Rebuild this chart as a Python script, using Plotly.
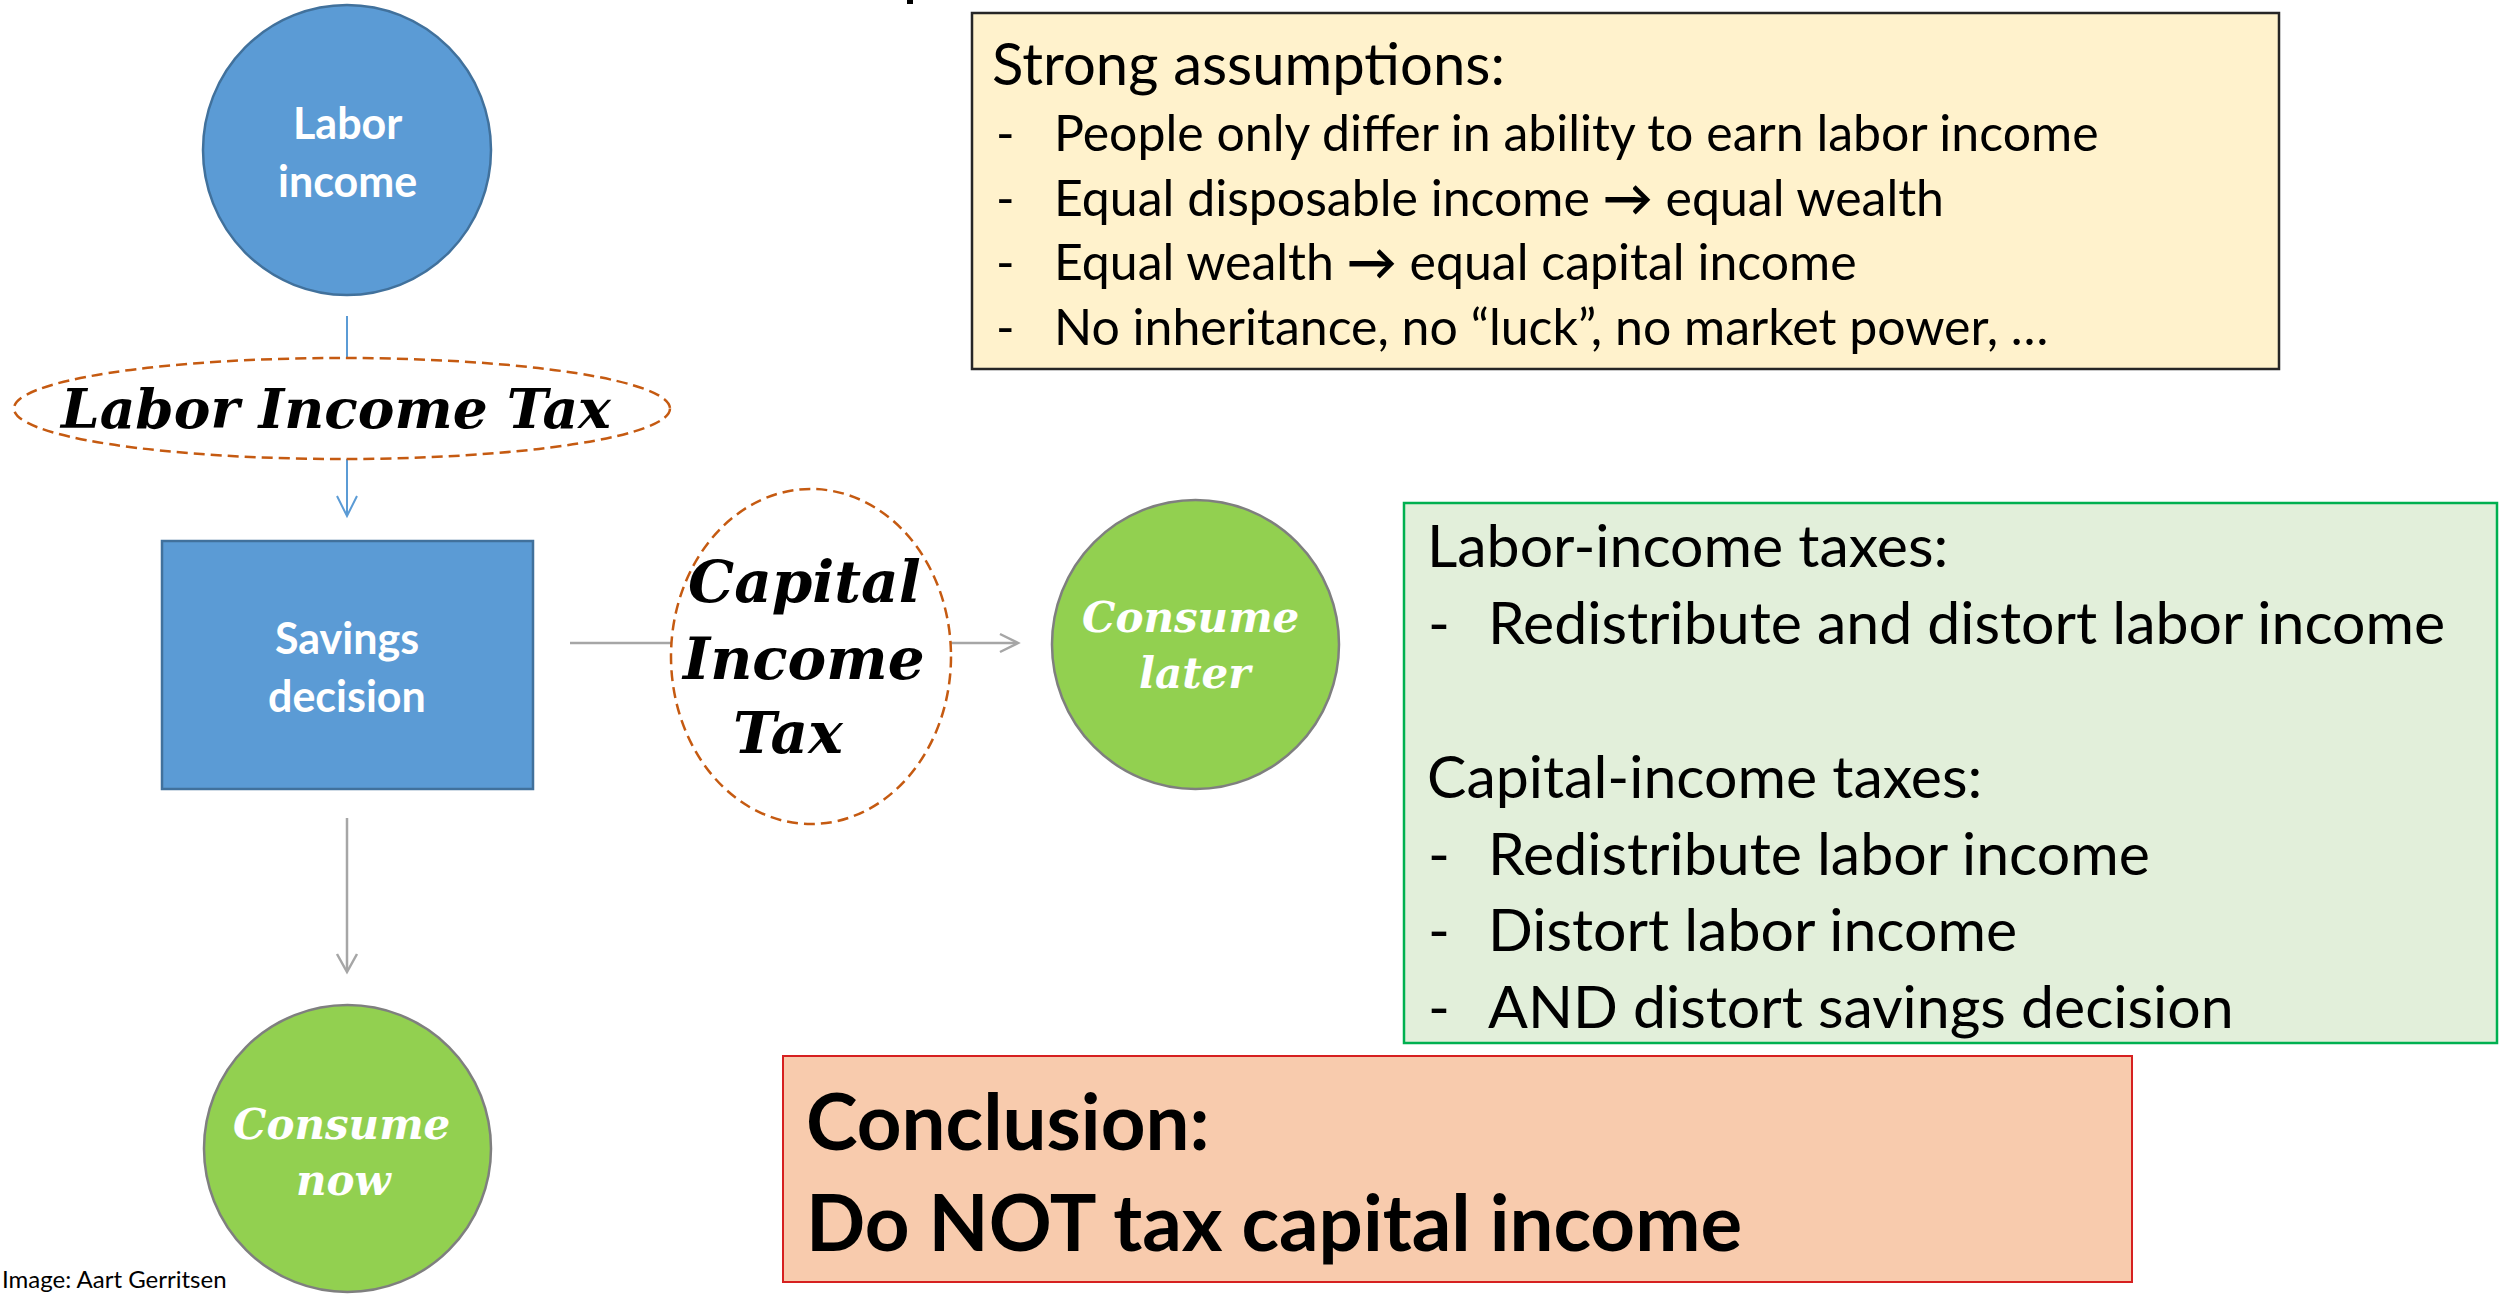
import plotly.graph_objects as go

W, H = 2503, 1294

# ---- text content ----
assumption_title = "Strong assumptions:"
assumptions = [
    "People only differ in ability to earn labor income",
    "Equal disposable income <b>→</b> equal wealth",
    "Equal wealth <b>→</b> equal capital income",
    "No inheritance, no “luck”, no market power, …",
]
labor_title = "Labor-income taxes:"
labor_items = ["Redistribute and distort labor income"]
capital_title = "Capital-income taxes:"
capital_items = ["Redistribute labor income", "Distort labor income", "AND distort savings decision"]
conclusion_lines = ["Conclusion:", "Do NOT tax capital income"]
node_labels = {
    "labor": ["Labor", "income"],
    "savings": ["Savings", "decision"],
    "later": ["Consume", "later"],
    "now": ["Consume", "now"],
}
tax_labels = {"labor": "Labor Income Tax", "capital": ["Capital", "Income", "Tax"]}
credit = "Image: Aart Gerritsen"

# ---- colours ----
BLUE = "#5B9BD5"
BLUE_EDGE = "#41719C"
GREEN = "#92D050"
GREY_EDGE = "#7F7F7F"
DASH = "#C55A11"
ARROW_GREY = "#A6A6A6"

SANS = "Lato"
SERIF = "DejaVu Serif"

fig = go.Figure()
shapes = []
ann = []


def text(x, y, s, size, color="black", family=SANS, xanchor="left"):
    ann.append(dict(x=x, y=y, xref="x", yref="y", text=s, showarrow=False,
                    xanchor=xanchor, yanchor="middle", align="left",
                    font=dict(family=family, size=size, color=color)))


def vhead(x, y, direction, color, half=9, length=18, width=2.5):
    if direction == "down":
        p = f"M {x-half},{y-length} L {x},{y} L {x+half},{y-length}"
    else:
        p = f"M {x-length},{y-half} L {x},{y} L {x-length},{y+half}"
    shapes.append(dict(type="path", path=p, line=dict(color=color, width=width)))


def line(x0, y0, x1, y1, color, width=2.5):
    shapes.append(dict(type="line", x0=x0, y0=y0, x1=x1, y1=y1,
                       line=dict(color=color, width=width)))


# ---- connectors ----
line(347, 316, 347, 360, BLUE, 2)
line(347, 458, 347, 515, BLUE, 2)
vhead(347, 516, "down", BLUE, half=10, length=20, width=2)
line(570, 643, 672, 643, ARROW_GREY)
line(950, 643, 1017, 643, ARROW_GREY)
vhead(1018, 643, "right", ARROW_GREY)
line(347, 818, 347, 971, ARROW_GREY)
vhead(347, 972, "down", ARROW_GREY, half=10)

# ---- boxes ----
shapes.append(dict(type="rect", x0=972, x1=2279, y0=13, y1=369,
                   fillcolor="#FFF2CC", line=dict(color="#262626", width=2.5)))
shapes.append(dict(type="rect", x0=1404, x1=2497, y0=503, y1=1043,
                   fillcolor="#E2EFDA", line=dict(color="#00B050", width=2.5)))
shapes.append(dict(type="rect", x0=783, x1=2132, y0=1056, y1=1282,
                   fillcolor="#F8CBAD", line=dict(color="#D62020", width=2)))

# ---- nodes ----
shapes.append(dict(type="circle", x0=203, x1=491, y0=5, y1=295,
                   fillcolor=BLUE, line=dict(color=BLUE_EDGE, width=2.5)))
shapes.append(dict(type="rect", x0=162, x1=533, y0=541, y1=789,
                   fillcolor=BLUE, line=dict(color=BLUE_EDGE, width=2.5)))
shapes.append(dict(type="circle", x0=1052, x1=1339, y0=500, y1=789,
                   fillcolor=GREEN, line=dict(color=GREY_EDGE, width=2.5)))
shapes.append(dict(type="circle", x0=204, x1=491, y0=1005, y1=1292,
                   fillcolor=GREEN, line=dict(color=GREY_EDGE, width=2.5)))
# dashed tax ellipses
shapes.append(dict(type="circle", x0=14, x1=670, y0=358, y1=459,
                   fillcolor="white", line=dict(color=DASH, width=2.5, dash="11px,6px")))
shapes.append(dict(type="circle", x0=671, x1=951, y0=489, y1=824,
                   fillcolor="white", line=dict(color=DASH, width=2.5, dash="11px,6px")))
# cut-off title remnant at top
shapes.append(dict(type="rect", x0=907, x1=913, y0=0, y1=4, fillcolor="black", line=dict(width=0)))

# ---- texts ----
text(990, 62, assumption_title, 58)
for i, s in enumerate(assumptions):
    yc = 132 + i * 64.5
    text(994, yc, "-", 50)
    text(1052, yc, s, 50)

text(1425, 544, labor_title, 59)
for i, s in enumerate(labor_items):
    yc = 621 + i * 77
    text(1426, yc, "-", 59)
    text(1486, yc, s, 59)
text(1425, 775, capital_title, 59)
for i, s in enumerate(capital_items):
    yc = 852 + i * 76.5
    text(1426, yc, "-", 59)
    text(1486, yc, s, 59)

text(804, 1120, "<b>" + conclusion_lines[0] + "</b>", 78)
text(804, 1221, "<b>" + conclusion_lines[1] + "</b>", 78)

text(347, 122, "<b>" + node_labels["labor"][0] + "</b>", 43, "white", xanchor="center")
text(347, 180, "<b>" + node_labels["labor"][1] + "</b>", 43, "white", xanchor="center")
text(347, 637, "<b>" + node_labels["savings"][0] + "</b>", 43, "white", xanchor="center")
text(347, 695, "<b>" + node_labels["savings"][1] + "</b>", 43, "white", xanchor="center")

text(335, 408, "<b><i>" + tax_labels["labor"] + "</i></b>", 55, family=SERIF, xanchor="center")
for (yc, xc, s) in zip([582, 659, 733], [804, 803, 788], tax_labels["capital"]):
    text(xc, yc, "<b><i>" + s + "</i></b>", 58, family=SERIF, xanchor="center")

text(1190, 617, "<b><i>" + node_labels["later"][0] + "</i></b>", 42, "white", SERIF, "center")
text(1196, 673, "<b><i>" + node_labels["later"][1] + "</i></b>", 42, "white", SERIF, "center")
text(341, 1124, "<b><i>" + node_labels["now"][0] + "</i></b>", 42, "white", SERIF, "center")
text(344, 1180, "<b><i>" + node_labels["now"][1] + "</i></b>", 42, "white", SERIF, "center")

text(0, 1278, credit, 24)

fig.update_layout(
    width=W, height=H, margin=dict(l=0, r=0, t=0, b=0),
    paper_bgcolor="white", plot_bgcolor="white",
    xaxis=dict(range=[0, W], visible=False, fixedrange=True),
    yaxis=dict(range=[H, 0], visible=False, fixedrange=True),
    shapes=shapes, annotations=ann, showlegend=False,
)

fig.write_html("out.html", config={"displayModeBar": False},
               post_script="document.body.style.margin='0';document.body.style.overflow='hidden';")
